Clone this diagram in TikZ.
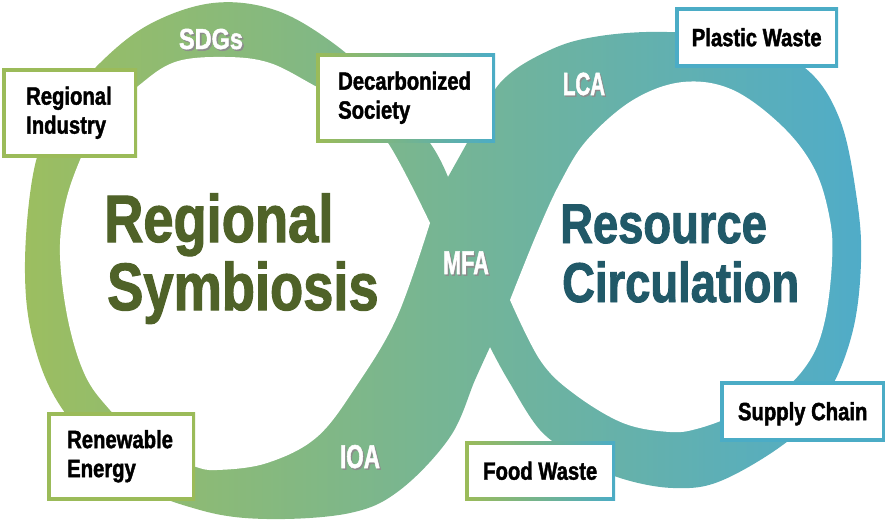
\documentclass[tikz,border=0pt]{standalone}
\usepackage{fontspec}
\usepackage{graphicx}
\newfontfamily\imp[FakeStretch=0.81,FakeBold=1.6]{Liberation Sans}
\definecolor{grn}{RGB}{155,187,89}
\definecolor{blu}{RGB}{75,172,198}
\definecolor{bandL}{RGB}{156,190,96}
\definecolor{bandM}{RGB}{126,181,166}
\definecolor{bandR}{RGB}{80,172,200}
\definecolor{dgrn}{RGB}{79,98,40}
\definecolor{dteal}{RGB}{33,89,104}
\newcommand\shtxt[1]{\rlap{\kern1.6pt\raisebox{-1.6pt}{\textcolor{black!45}{#1}}}#1}
\begin{document}
\begin{tikzpicture}[x=1pt,y=-1pt,
  frame/.style n args={2}{fill=white, path picture={
      \shade[left color=#1,right color=#2] (path picture bounding box.south west) rectangle (path picture bounding box.north east);
      \fill[white] ([shift={(3.5pt,3.5pt)}]path picture bounding box.south west) rectangle ([shift={(-3.5pt,-3.5pt)}]path picture bounding box.north east);}},
  boxtxt/.style={font=\imp\bfseries\fontsize{25}{29}\selectfont, text=black},
  lbox/.style={boxtxt, anchor=north west, align=left, inner ysep=0pt},
  cbox/.style={boxtxt, anchor=north west, align=center, inner sep=0pt, text height=18pt, text depth=0pt},
  lbl/.style={font=\imp\bfseries, text=white, anchor=base, inner sep=0pt},
  big/.style={font=\imp\bfseries, anchor=base west, inner sep=0pt}
]
\useasboundingbox (0,0) rectangle (885,527);

% infinity band
\shade[left color=bandL, middle color=bandM, right color=bandR]
  plot[smooth, tension=0.6] coordinates {(490,347) (475,380) (450,437) (400,490) (350,513) (267,519) (200,510) (130,480) (63,410) (33,340) (25,262) (35,165) (60,112) (100,63) (150,24) (213,3) (275,10) (333,43) (385,90) (430,143) (448,177)}
  -- plot[smooth, tension=0.6] coordinates {(448,177) (467,143) (500,83) (550,50) (600,36) (667,32) (740,40) (805,68) (840,120) (857,200) (861,262) (853,330) (830,390) (793,437) (723,480) (673,488) (617,477) (575,455) (540,430) (508,380) (490,347)}
  -- cycle;
\fill[white] plot[smooth, tension=0.6] coordinates {(430,223) (388,143) (350,104) (317,87) (270,63) (225,57) (175,62) (137,87) (100,122) (80,160) (65,205) (60,255) (68,320) (85,375) (110,410) (150,450) (193,466) (217,470) (267,463) (317,437) (357,385) (397,317) (430,223)} -- cycle;
\fill[white] plot[smooth, tension=0.6] coordinates {(510,300) (537,233) (560,183) (587,140) (633,100) (683,82) (733,90) (783,127) (815,170) (830,220) (832,262) (825,320) (810,360) (780,393) (740,413) (700,428) (670,432) (623,423) (573,393) (540,360) (510,300)} -- cycle;

% labels on the band
\node[lbl, font=\imp\bfseries\fontsize{29}{29}\selectfont] (sdg) at (211,49) {\shtxt{SDGs}};
\node[lbl, font=\imp\bfseries\fontsize{32}{32}\selectfont] (lca) at (584,95) {\scalebox{0.79}[1]{\shtxt{LCA}}};
\node[lbl, font=\imp\bfseries\fontsize{33}{33}\selectfont] (mfa) at (466,274) {\scalebox{0.81}[1]{\shtxt{MFA}}};
\node[lbl, font=\imp\bfseries\fontsize{33}{33}\selectfont] (ioa) at (360,468) {\scalebox{0.84}[1]{\shtxt{IOA}}};

% big titles
\node[big, text=dgrn, font=\imp\bfseries\fontsize{67}{67}\selectfont] (rs1) at (104,242) {Regional};
\node[big, text=dgrn, font=\imp\bfseries\fontsize{67}{67}\selectfont] (rs2) at (107,310) {Symbiosis};
\node[big, text=dteal, font=\imp\bfseries\fontsize{56}{56}\selectfont] (rc1) at (560,243) {Resource};
\node[big, text=dteal, font=\imp\bfseries\fontsize{56}{56}\selectfont] (rc2) at (562,302) {Circulation};

% boxes
\node[lbox, frame={grn}{grn}, inner xsep=24pt, text width=87pt, minimum width=135pt, minimum height=89pt] (ri) at (2,68) {Regional\\Industry};
\node[lbox, frame={grn}{blu}, inner xsep=22pt, text width=135pt, minimum width=179pt, minimum height=89pt] (ds) at (316,53) {Decarbonized\\Society};
\node[cbox, frame={blu}{blu}, minimum width=163pt, minimum height=60pt] (pw) at (675,7) {Plastic Waste};
\node[lbox, frame={grn}{grn}, inner xsep=20pt, text width=108pt, minimum width=148pt, minimum height=88pt] (re) at (47,412) {Renewable\\Energy};
\node[cbox, frame={grn}{blu}, minimum width=150pt, minimum height=59pt] (fw) at (465,441) {Food Waste};
\node[cbox, frame={blu}{blu}, minimum width=165pt, minimum height=60pt] (sc) at (720,381) {Supply Chain};
\end{tikzpicture}
\end{document}
